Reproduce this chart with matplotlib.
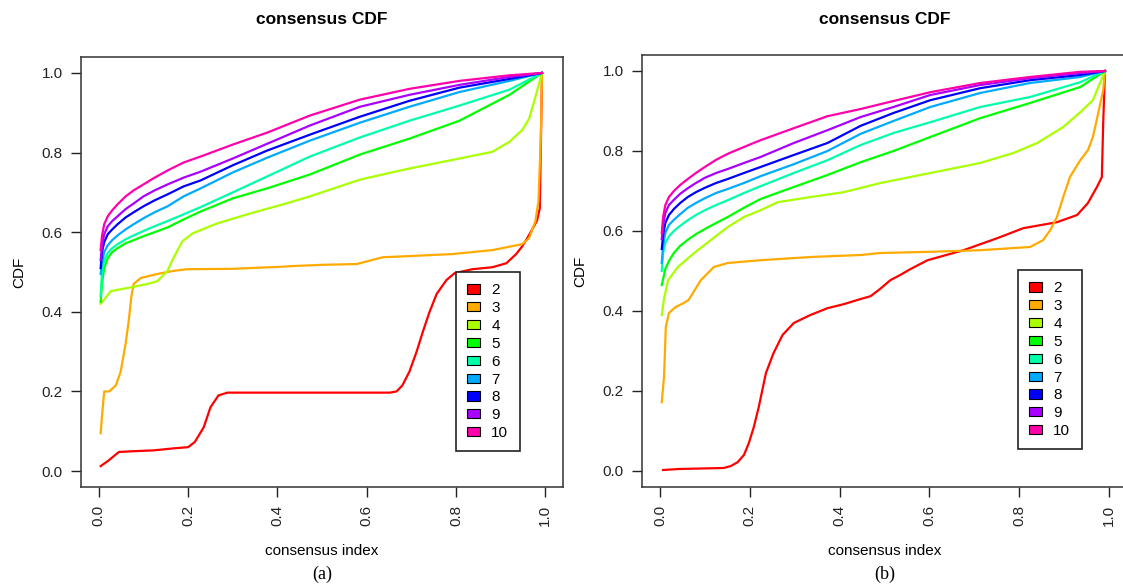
import matplotlib
matplotlib.use('Agg')
import matplotlib.pyplot as plt
from matplotlib.patches import Patch

plt.rcParams['font.family'] = ['Liberation Sans', 'DejaVu Sans']

ks = ['2', '3', '4', '5', '6', '7', '8', '9', '10']
# R rainbow(9)
colors = ['#FF0000', '#FFAA00', '#AAFF00', '#00FF00', '#00FFAA',
          '#00AAFF', '#0000FF', '#AA00FF', '#FF00AA']

# ---- panel (a) ----
a2_x = [0.004, 0.02, 0.045, 0.08, 0.123, 0.167, 0.2, 0.215, 0.235, 0.25, 0.268, 0.288, 0.4, 0.5, 0.652,
        0.667, 0.68, 0.696, 0.712, 0.726, 0.741, 0.757, 0.779, 0.797, 0.837, 0.882, 0.913, 0.935, 0.949,
        0.96, 0.975, 0.982, 0.988, 0.993]
a2_y = [0.0125, 0.025, 0.048, 0.05, 0.052, 0.057, 0.06, 0.073, 0.11, 0.16, 0.19, 0.197, 0.197, 0.197, 0.197,
        0.2, 0.215, 0.25, 0.30, 0.35, 0.40, 0.445, 0.48, 0.497, 0.507, 0.512, 0.522, 0.545, 0.565,
        0.585, 0.615, 0.63, 0.66, 1.0]
a3_x = [0.004, 0.008, 0.012, 0.023, 0.038, 0.049, 0.06, 0.067, 0.073, 0.078, 0.094, 0.131, 0.168, 0.198,
        0.30, 0.406, 0.436, 0.50, 0.578, 0.636, 0.696, 0.792, 0.882, 0.949, 0.964, 0.978, 0.985, 0.99, 0.993]
a3_y = [0.095, 0.15, 0.2, 0.2, 0.215, 0.25, 0.32, 0.378, 0.44, 0.47, 0.485, 0.495, 0.503, 0.507,
        0.508, 0.513, 0.515, 0.518, 0.52, 0.537, 0.54, 0.545, 0.555, 0.57, 0.585, 0.627, 0.678, 0.83, 1.0]
a4_x = [0.004, 0.027, 0.065, 0.109, 0.131, 0.154, 0.167, 0.187, 0.21, 0.265, 0.339, 0.413, 0.473, 0.585,
        0.696, 0.808, 0.882, 0.92, 0.949, 0.964, 0.975, 0.993]
a4_y = [0.42, 0.452, 0.46, 0.47, 0.477, 0.503, 0.535, 0.577, 0.597, 0.622, 0.647, 0.67, 0.69, 0.732,
        0.76, 0.785, 0.802, 0.827, 0.857, 0.885, 0.927, 1.0]
# k = 5..10 share one x grid
a_hi_x = [0.004, 0.007, 0.012, 0.02, 0.03, 0.042, 0.06, 0.078, 0.1, 0.125, 0.154, 0.19, 0.228, 0.30,
          0.377, 0.473, 0.585, 0.696, 0.808, 0.92, 0.993]
a5_y = [0.425, 0.47, 0.51, 0.535, 0.55, 0.56, 0.572, 0.58, 0.59, 0.6, 0.612, 0.632, 0.652, 0.685,
        0.71, 0.745, 0.795, 0.835, 0.88, 0.945, 1.0]
a6_y = [0.44, 0.5, 0.53, 0.548, 0.56, 0.57, 0.582, 0.592, 0.603, 0.615, 0.628, 0.645, 0.663, 0.7,
        0.74, 0.79, 0.838, 0.88, 0.918, 0.958, 1.0]
a7_y = [0.495, 0.525, 0.55, 0.567, 0.58, 0.592, 0.607, 0.62, 0.635, 0.65, 0.665, 0.69, 0.71, 0.75,
        0.787, 0.83, 0.875, 0.915, 0.952, 0.98, 1.0]
a8_y = [0.51, 0.55, 0.575, 0.595, 0.607, 0.62, 0.637, 0.65, 0.665, 0.68, 0.695, 0.715, 0.73, 0.768,
        0.805, 0.845, 0.89, 0.93, 0.963, 0.985, 1.0]
a9_y = [0.53, 0.565, 0.595, 0.615, 0.628, 0.64, 0.658, 0.672, 0.69, 0.705, 0.72, 0.737, 0.752, 0.785,
        0.822, 0.868, 0.915, 0.945, 0.97, 0.99, 1.0]
a10_y = [0.555, 0.59, 0.62, 0.64, 0.655, 0.67, 0.69, 0.705, 0.72, 0.737, 0.755, 0.775, 0.79, 0.82,
         0.85, 0.893, 0.933, 0.96, 0.98, 0.994, 1.0]

# ---- panel (b) ----
b2_x = [0.007, 0.042, 0.142, 0.158, 0.173, 0.187, 0.198, 0.209, 0.22, 0.236, 0.253, 0.273, 0.298, 0.335,
        0.373, 0.409, 0.447, 0.469, 0.49, 0.513, 0.535, 0.558, 0.596, 0.676, 0.751, 0.809, 0.884, 0.929,
        0.953, 0.973, 0.984, 0.987, 0.991]
b2_y = [0.0025, 0.005, 0.0075, 0.0125, 0.022, 0.04, 0.07, 0.11, 0.16, 0.245, 0.295, 0.34, 0.37, 0.39,
        0.407, 0.417, 0.43, 0.437, 0.455, 0.477, 0.49, 0.505, 0.527, 0.552, 0.582, 0.607, 0.622, 0.64,
        0.67, 0.71, 0.735, 0.87, 1.0]
b3_x = [0.004, 0.009, 0.011, 0.013, 0.02, 0.035, 0.053, 0.064, 0.091, 0.12, 0.151, 0.224, 0.336, 0.447,
        0.491, 0.602, 0.713, 0.824, 0.853, 0.869, 0.884, 0.898, 0.913, 0.936, 0.953, 0.964, 0.976, 0.987, 0.991]
b3_y = [0.172, 0.235, 0.295, 0.36, 0.395, 0.41, 0.42, 0.428, 0.477, 0.51, 0.52, 0.527, 0.535, 0.54,
        0.545, 0.548, 0.552, 0.56, 0.577, 0.602, 0.635, 0.685, 0.735, 0.777, 0.802, 0.835, 0.895, 0.952, 1.0]
b4_x = [0.004, 0.009, 0.018, 0.04, 0.076, 0.113, 0.151, 0.187, 0.224, 0.262, 0.336, 0.409, 0.491, 0.602,
        0.713, 0.787, 0.84, 0.898, 0.936, 0.964, 0.991]
b4_y = [0.39, 0.43, 0.477, 0.51, 0.545, 0.577, 0.61, 0.635, 0.652, 0.672, 0.685, 0.697, 0.72, 0.745,
        0.77, 0.795, 0.82, 0.86, 0.897, 0.927, 1.0]
b_hi_x = [0.004, 0.007, 0.012, 0.02, 0.031, 0.045, 0.062, 0.08, 0.1, 0.125, 0.151, 0.187, 0.224, 0.298,
          0.373, 0.447, 0.52, 0.602, 0.713, 0.824, 0.936, 0.991]
b5_y = [0.465, 0.48, 0.505, 0.525, 0.545, 0.563, 0.578, 0.592, 0.605, 0.62, 0.635, 0.658, 0.68, 0.71,
        0.74, 0.772, 0.8, 0.835, 0.882, 0.92, 0.96, 1.0]
b6_y = [0.5, 0.545, 0.57, 0.587, 0.6, 0.613, 0.627, 0.64, 0.652, 0.665, 0.677, 0.695, 0.712, 0.745,
        0.777, 0.815, 0.845, 0.872, 0.91, 0.935, 0.972, 1.0]
b7_y = [0.52, 0.565, 0.595, 0.615, 0.628, 0.642, 0.658, 0.67, 0.682, 0.695, 0.705, 0.72, 0.737, 0.767,
        0.8, 0.843, 0.875, 0.91, 0.945, 0.97, 0.985, 1.0]
b8_y = [0.555, 0.59, 0.62, 0.64, 0.655, 0.67, 0.685, 0.697, 0.708, 0.72, 0.73, 0.745, 0.76, 0.79,
        0.82, 0.863, 0.895, 0.927, 0.957, 0.977, 0.99, 1.0]
b9_y = [0.58, 0.615, 0.645, 0.665, 0.678, 0.693, 0.707, 0.72, 0.733, 0.745, 0.755, 0.77, 0.785, 0.82,
        0.852, 0.885, 0.91, 0.94, 0.965, 0.982, 0.995, 1.0]
b10_y = [0.595, 0.635, 0.665, 0.685, 0.7, 0.715, 0.73, 0.745, 0.76, 0.778, 0.793, 0.81, 0.827, 0.857,
         0.887, 0.905, 0.925, 0.947, 0.97, 0.985, 0.998, 1.0]

curves_a = [(a2_x, a2_y), (a3_x, a3_y), (a4_x, a4_y)] + \
           [(a_hi_x, y) for y in (a5_y, a6_y, a7_y, a8_y, a9_y, a10_y)]
curves_b = [(b2_x, b2_y), (b3_x, b3_y), (b4_x, b4_y)] + \
           [(b_hi_x, y) for y in (b5_y, b6_y, b7_y, b8_y, b9_y, b10_y)]

ticks = [0.0, 0.2, 0.4, 0.6, 0.8, 1.0]
tick_labels = ['0.0', '0.2', '0.4', '0.6', '0.8', '1.0']

W, H = 1123, 584
fig = plt.figure(figsize=(W / 100, H / 100), dpi=100)


def panel(box, curves, leg_xy, tag):
    x0, y0, x1, y1 = box
    ax = fig.add_axes([x0 / W, 1 - y1 / H, (x1 - x0) / W, (y1 - y0) / H])
    for (xs, ys), c in zip(curves, colors):
        ax.plot(xs, ys, color=c, lw=1.6)
    ax.set_xlim(-0.04, 1.04)
    ax.set_ylim(-0.04, 1.04)
    ax.set_xticks(ticks)
    ax.set_xticklabels(tick_labels, rotation=90)
    ax.set_yticks(ticks)
    ax.set_yticklabels(tick_labels)
    ax.tick_params(direction='out', length=7, width=1, labelsize=11, pad=6, colors='#222222')
    for s in ax.spines.values():
        s.set_color('#333333')
        s.set_linewidth(1.1)
    ax.set_ylabel('CDF', fontsize=11, labelpad=11)

    handles = [Patch(facecolor=c, edgecolor='black', lw=0.8, label=k) for c, k in zip(colors, ks)]
    leg = ax.legend(handles=handles, loc='upper left', bbox_to_anchor=(leg_xy[0] / W, 1 - leg_xy[1] / H),
                    bbox_transform=fig.transFigure, borderaxespad=0, fontsize=11,
                    handlelength=0.8, handleheight=0.55, handletextpad=0.75, labelspacing=0.25,
                    borderpad=0.75, fancybox=False, framealpha=1)
    leg.get_frame().set_edgecolor('#222222')
    leg.get_frame().set_linewidth(1.2)

    cx = (x0 + x1) / 2 / W
    fig.text(cx, 1 - 20 / H, 'consensus CDF', ha='center', va='center', fontsize=12.5, fontweight='bold')
    fig.text(cx, 1 - 551 / H, 'consensus index', ha='center', va='center', fontsize=11)
    fig.text(cx, 1 - 574 / H, tag, ha='center', va='center', fontsize=13, family='Liberation Serif')
    return ax


panel((81, 57, 563, 487), curves_a, (456, 272), '(a)')
panel((642, 55, 1127, 487), curves_b, (1018, 270), '(b)')

fig.savefig('out.png', dpi=100)
